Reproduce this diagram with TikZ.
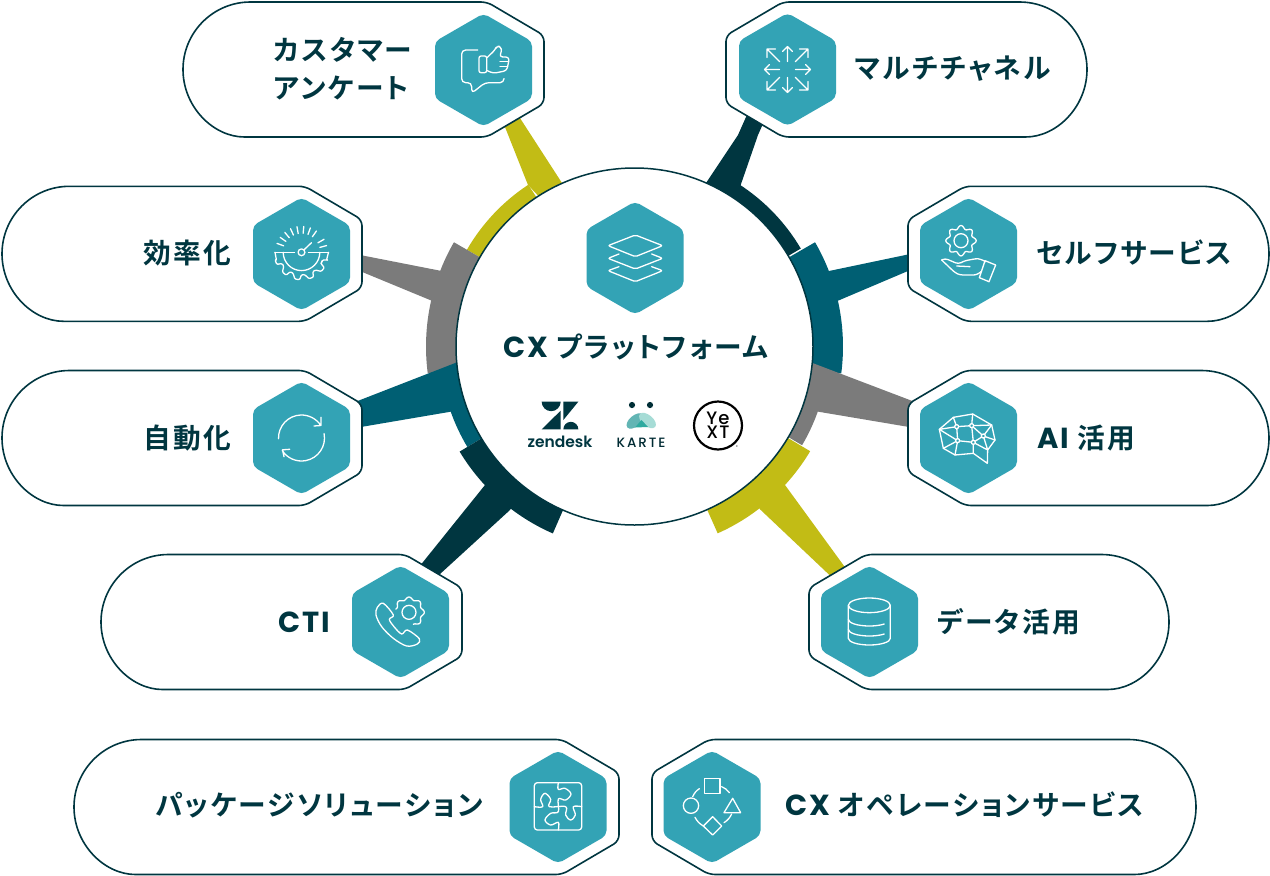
\documentclass[tikz,border=0pt]{standalone}
\usepackage{fontspec}
\setmainfont{Poppins}
\newfontfamily\cjkbold[LetterSpace=8,RawFeature={+palt}]{Noto Sans CJK JP Bold}
\newfontfamily\latbold[LetterSpace=6]{Poppins Bold}
\newfontfamily\logofont{Poppins SemiBold}
\newfontfamily\kartefont[LetterSpace=14]{Poppins Medium}
\newfontfamily\yextfont[LetterSpace=6]{Poppins Medium}
\definecolor{inkteal}{HTML}{003640}
\definecolor{hexteal}{HTML}{33A3B5}
\definecolor{deepblue}{HTML}{005F73}
\definecolor{spokegray}{HTML}{7B7B7B}
\definecolor{spokeolive}{HTML}{C2BC15}
\definecolor{karteleft}{HTML}{62B5B4}
\definecolor{karteright}{HTML}{A6DCD6}
\definecolor{kartemid}{HTML}{2FAA9F}
\newcommand{\lattext}[1]{{\latbold\fontsize{29}{38}\selectfont #1}}
\tikzset{
	pillline/.style={draw=inkteal,line width=1.6pt,fill=white},
	iconline/.style={draw=white,line width=1.3pt,line cap=round,line join=round},
	labeltext/.style={font=\cjkbold\fontsize{27.7}{38}\selectfont,text=inkteal,inner sep=0pt,align=left},
}
\newcommand{\pillR}[3]{\draw[pillline,rounded corners=6] (#1+67.5,#3-67.5)--(#2-57,#3-67.5)--(#2,#3-34)--(#2,#3+34)--(#2-57,#3+67.5)--(#1+67.5,#3+67.5)[sharp corners]arc(90:270:67.5)--cycle;}
\newcommand{\pillL}[3]{\draw[pillline,rounded corners=6] (#2-67.5,#3-67.5)--(#1+57,#3-67.5)--(#1,#3-34)--(#1,#3+34)--(#1+57,#3+67.5)--(#2-67.5,#3+67.5)[sharp corners]arc(90:-90:67.5)--cycle;}
\newcommand{\hexbadge}[2]{\fill[hexteal,rounded corners=5] (#1,#2-56.5)--(#1+48.5,#2-28.5)--(#1+48.5,#2+28.5)--(#1,#2+56.5)--(#1-48.5,#2+28.5)--(#1-48.5,#2-28.5)--cycle;}
\newcommand{\ringseg}[4]{\fill[#1,shift={(hub)}] (0,0)--(#2:#4)arc(#2:#3:#4)--cycle;}
\begin{document}
\begin{tikzpicture}[x=1pt,y=-1pt]
	\useasboundingbox (0,0) rectangle (1270,876);
	\coordinate (hub) at (634.5,346.5);
	\ringseg{inkteal}{-57}{-30.5}{193}
	\fill[inkteal] (706,183)--(738,135)--(750,108)--(770,108)--(758,135)--(740,187)--(700,240)--cycle;
	\ringseg{spokeolive}{-123.3}{-150}{193.5}
	\fill[spokeolive] (562,183)--(518,115)--(503,122)--(528,185)--(580,240)--cycle;
	\ringseg{spokegray}{172.6}{210}{208.5}
	\fill[spokegray] (441.7,271)--(355,254)--(355,269)--(431.7,300.7)--(500,320)--cycle;
	\ringseg{deepblue}{-30}{7.4}{208.5}
	\fill[deepblue] (829,271)--(915,253)--(915,268)--(838,300.7)--(770,320)--cycle;
	\ringseg{deepblue}{149}{172.6}{195}
	\fill[deepblue] (456,362.7)--(355,402)--(355,428)--(450.7,411.7)--(500,380)--cycle;
	\ringseg{spokegray}{7}{30.5}{194.5}
	\fill[spokegray] (813.3,363.3)--(915,402)--(915,428)--(818.3,411.7)--(770,380)--cycle;
	\ringseg{inkteal}{113.6}{149}{204}
	\fill[inkteal] (485,485)--(415,572)--(428,585)--(510,510)--(540,460)--cycle;
	\ringseg{spokeolive}{30.8}{66}{204.5}
	\fill[spokeolive] (785,485)--(855,581)--(840,585)--(760,509.3)--(730,460)--cycle;
	\pillR{183}{544}{69.5}
	\pillL{726}{1087}{69.5}
	\pillR{2}{362}{253.8}
	\pillL{908}{1269}{253.8}
	\pillR{2}{362}{438}
	\pillL{908}{1269}{438}
	\pillR{101}{462}{622}
	\pillL{809}{1169}{622}
	\pillR{74}{619}{807}
	\pillL{652}{1196}{807}
	\node[circle,draw=inkteal,line width=1.5pt,fill=white,minimum size=357pt,inner sep=0pt] (platform) at (hub) {};
	\hexbadge{635}{258}
	\hexbadge{483.5}{70}
	\hexbadge{787.5}{69.5}
	\hexbadge{301.5}{254}
	\hexbadge{968.5}{254}
	\hexbadge{301.5}{438}
	\hexbadge{968.5}{438}
	\hexbadge{400.5}{622}
	\hexbadge{869.5}{622}
	\hexbadge{558}{807}
	\hexbadge{712}{807}
	\node[labeltext] (survey) at (343,69) {カスタマー\\アンケート};
	\node[labeltext] (multi) at (953,69) {マルチチャネル};
	\node[labeltext,anchor=east] (effect) at (231,253) {効率化};
	\node[labeltext] (selfserve) at (1134,253) {セルフサービス};
	\node[labeltext,anchor=east] (autom) at (231,438) {自動化};
	\node[labeltext,anchor=west] (aiuse) at (1037,438) {\lattext{AI} 活用};
	\node[labeltext,anchor=east] (cti) at (330,622) {\lattext{CTI}};
	\node[labeltext] (datause) at (1008.5,622) {データ活用};
	\node[labeltext] (package) at (319,805) {パッケージソリューション};
	\node[labeltext,anchor=west] (cxops) at (785,805) {\lattext{CX} オペレーションサービス};
	\node[labeltext,anchor=west] (platformtext) at (503,347) {\lattext{CX} プラットフォーム};
	\begin{scope}[shift={(400,160)},scale=1/3]
		\draw[iconline,rounded corners=2] (706,225)--(788,257)--(706,290)--(624,257)--cycle;
		\draw[iconline,rounded corners=2] (755,282)--(788,295)--(706,327)--(624,295)--(657,282);
		\draw[iconline,rounded corners=2] (755,320)--(788,332)--(706,365)--(624,332)--(657,320);
	\end{scope}
	\begin{scope}[shift={(180,0)},scale=1/3]
		\draw[iconline,rounded corners=4] (893,150)--(845,150)--(845,248)--(875,248)--(875,280)--(915,248)--(972,248)--(972,236);
		\draw[iconline,rounded corners=2] (897,168) rectangle (920,218);
		\draw[iconline,rounded corners=3] (922,172)--(945,150)--(950,138)--(963,140)--(965,155)--(958,170)--(988,172)--(985,190)--(980,212)--(940,220)--(922,212);
		\draw[iconline] (960,185)--(986,185) (960,200)--(983,200);
	\end{scope}
	\begin{scope}[shift={(787.5,69.5)}]
		\foreach \a in {0,90,180,270}
		\draw[iconline,rotate=\a] (8,0)--(23,0) (18,-5)--(23,0)--(18,5);
		\foreach \a in {45,135,225,315}
		\draw[iconline,rotate=\a] (11,0)--(29,0) (23,-6)--(29,0)--(23,6);
	\end{scope}
	\begin{scope}[shift={(301.5,252.3)}]
		\draw[iconline] (0,0) circle (3.4);
		\draw[iconline] (2.4,-2.4)--(10,-9.6);
		\draw[iconline] (-26.5,0)--(-7,0) (7,0)--(27,0);
		\draw[iconline] (-18.3,0) arc(180:0:18.3);
		\draw[iconline,rounded corners=1] (-26.5,0)--(-25,8)
		\foreach \a in {150,120,90,60,30}{ --(\a+14:27.5)--(\a+4:27.5)--(\a:22.5)--(\a-8:22.5)};
		\draw[iconline,rounded corners=1] (27,0)--(25,8)--(16:27.5)--(20:22.5)--(30:22.5);
		\foreach \a in {-160,-145,-130,-115,-100,-85,-70,-55,-30,-15}
		\draw[iconline] (\a:19)--(\a:26);
	\end{scope}
	\begin{scope}[shift={(301.5,438)}]
		\draw[iconline] (0,0)+(178:23) arc(178:327:23) (12.5,-12)--(19.5,-12.5)--(19.5,-20.7);
		\draw[iconline] (0,0)+(-11:23) arc(-11:147:23) (-11.8,11.3)--(-19,11.8)--(-17.5,18.7);
	\end{scope}
	\begin{scope}[shift={(961,240.7)}]
		\draw[iconline] (0,0) circle (7);
		\draw[iconline] plot[domain=0:360,samples=97,smooth] (\x:{13.5+1.7*cos(8*\x)});
	\end{scope}
	\begin{scope}[shift={(910,190)},scale=1/3]
		\draw[iconline,rounded corners=3] (95,210)--(105,205)--(145,222)--(165,212)--(205,205)--(228,215);
		\draw[iconline,rounded corners=3] (95,210)--(135,248)--(150,255)--(200,255)--(213,245);
		\draw[iconline,rounded corners=2] (140,228)--(180,230);
		\draw[iconline] (225,212)--(257,225)--(237,275)--(208,263)--cycle;
	\end{scope}
	\begin{scope}[shift={(910,190)},scale=1/3]
		\draw[iconline] (88,718)--(130,682)--(188,672)--(245,705)--(255,750)--(233,780)--(232,820)--(190,790)--(135,795)--(100,775)--cycle;
		\draw[iconline] (88,718)--(140,710)--(130,682) (140,710)--(185,707)--(188,672) (185,707)--(245,705) (185,707)--(220,738)--(245,705) (220,738)--(255,750) (220,738)--(233,780) (220,738)--(190,757)--(185,707) (140,710)--(143,752)--(100,775) (88,718)--(143,752)--(190,757)--(233,780) (143,752)--(135,795) (190,757)--(190,790);
		\foreach \p in {(140,710),(185,707),(220,738),(143,752),(190,757)}
		\fill[hexteal] \p circle (6);
		\foreach \p in {(140,710),(185,707),(220,738),(143,752),(190,757)}
		\draw[iconline] \p circle (6);
	\end{scope}
	\begin{scope}[shift={(340,560)},scale=1/3]
		\draw[iconline] plot[smooth cycle,tension=.55] coordinates {(130,130) (112,142) (108,165) (125,200) (160,235) (200,258) (232,252) (238,236) (202,210) (185,222) (162,200) (148,178) (160,165)};
		\draw[iconline] (207,157) circle (21);
		\draw[iconline] plot[domain=194:430,samples=60,smooth] ({207+(42+4*cos(8*\x))*cos(\x)},{157+(42+4*cos(8*\x))*sin(\x)});
	\end{scope}
	\begin{scope}[shift={(810,560)},scale=1/3]
		\draw[iconline] (178,136) ellipse (63 and 22);
		\draw[iconline] (115,136)--(115,235) arc(180:0:63 and 20)--(241,136);
		\draw[iconline] (115,178) arc(180:45:63 and 20);
		\draw[iconline] (115,208) arc(180:45:63 and 20);
	\end{scope}
	\begin{scope}[shift={(500,740)},scale=1/3]
		\draw[iconline,rounded corners=3] (103,128) rectangle (245,270);
		\draw[iconline] plot[smooth,tension=.6] coordinates {(175,128) (175,148) (195,145) (213,162) (197,180) (175,177) (175,215) (152,220) (135,240) (152,255) (175,247) (175,270)};
		\draw[iconline] plot[smooth,tension=.6] coordinates {(103,200) (128,200) (122,178) (135,160) (152,178) (148,200) (197,200) (197,225) (212,240) (226,225) (220,200) (245,200)};
	\end{scope}
	\begin{scope}[shift={(500,740)},scale=1/3]
		\draw[iconline] (614,115) rectangle (660,160);
		\draw[iconline] (573,197) circle (23);
		\draw[iconline] (698,175)--(722,218)--(672,218)--cycle;
		\draw[iconline] (638,230)--(665,258)--(638,285)--(610,258)--cycle;
		\draw[iconline] (598,146) to[bend right=15] (578,170);
		\draw[iconline] (665,140) to[bend left=15] (688,158);
		\draw[iconline] (695,222) to[bend left=15] (672,248);
		\draw[iconline] (585,232) to[bend right=15] (610,258);
	\end{scope}
	\begin{scope}[shift={(510,390)},scale=1/3]
		\fill[inkteal] (95,35)--(152,35)arc(0:180:28.5)--cycle;
		\fill[inkteal] (152,62)--(152,118)--(95,118)--cycle;
		\fill[inkteal] (160,35)--(205,35)--(160,90)--cycle;
		\fill[inkteal] (160,118)arc(180:360:22.5)--cycle;
	\end{scope}
	\node[font=\logofont\fontsize{15.5}{16}\selectfont,text=inkteal,inner sep=0pt] (zendesk) at (560,442) {zendesk};
	\fill[inkteal!85!black] (632,405) circle (3.1) (650,405) circle (3.1);
	\fill[karteleft,rotate around={40:(635,421)}] (635,421) ellipse (10 and 5.5);
	\fill[karteright,rotate around={-40:(647.5,420.5)}] (647.5,420.5) ellipse (10 and 5.5);
	\fill[kartemid] (641.5,420)--(648,427)--(635,427.5)--cycle;
	\node[font=\kartefont\fontsize{13.5}{14}\selectfont,text=inkteal!80!black,inner sep=0pt] (karte) at (641,443) {KARTE};
	\draw[black,line width=2.2pt] (718,425.5) circle (24);
	\node[font=\yextfont\fontsize{18}{14.5}\selectfont,text=black,inner sep=0pt,align=center] (yext) at (718,425) {Ye\\XT};
	\node[font=\yextfont\fontsize{4}{4}\selectfont,text=black!70,inner sep=0pt] (yextmark) at (737,447) {®};
\end{tikzpicture}
\end{document}
